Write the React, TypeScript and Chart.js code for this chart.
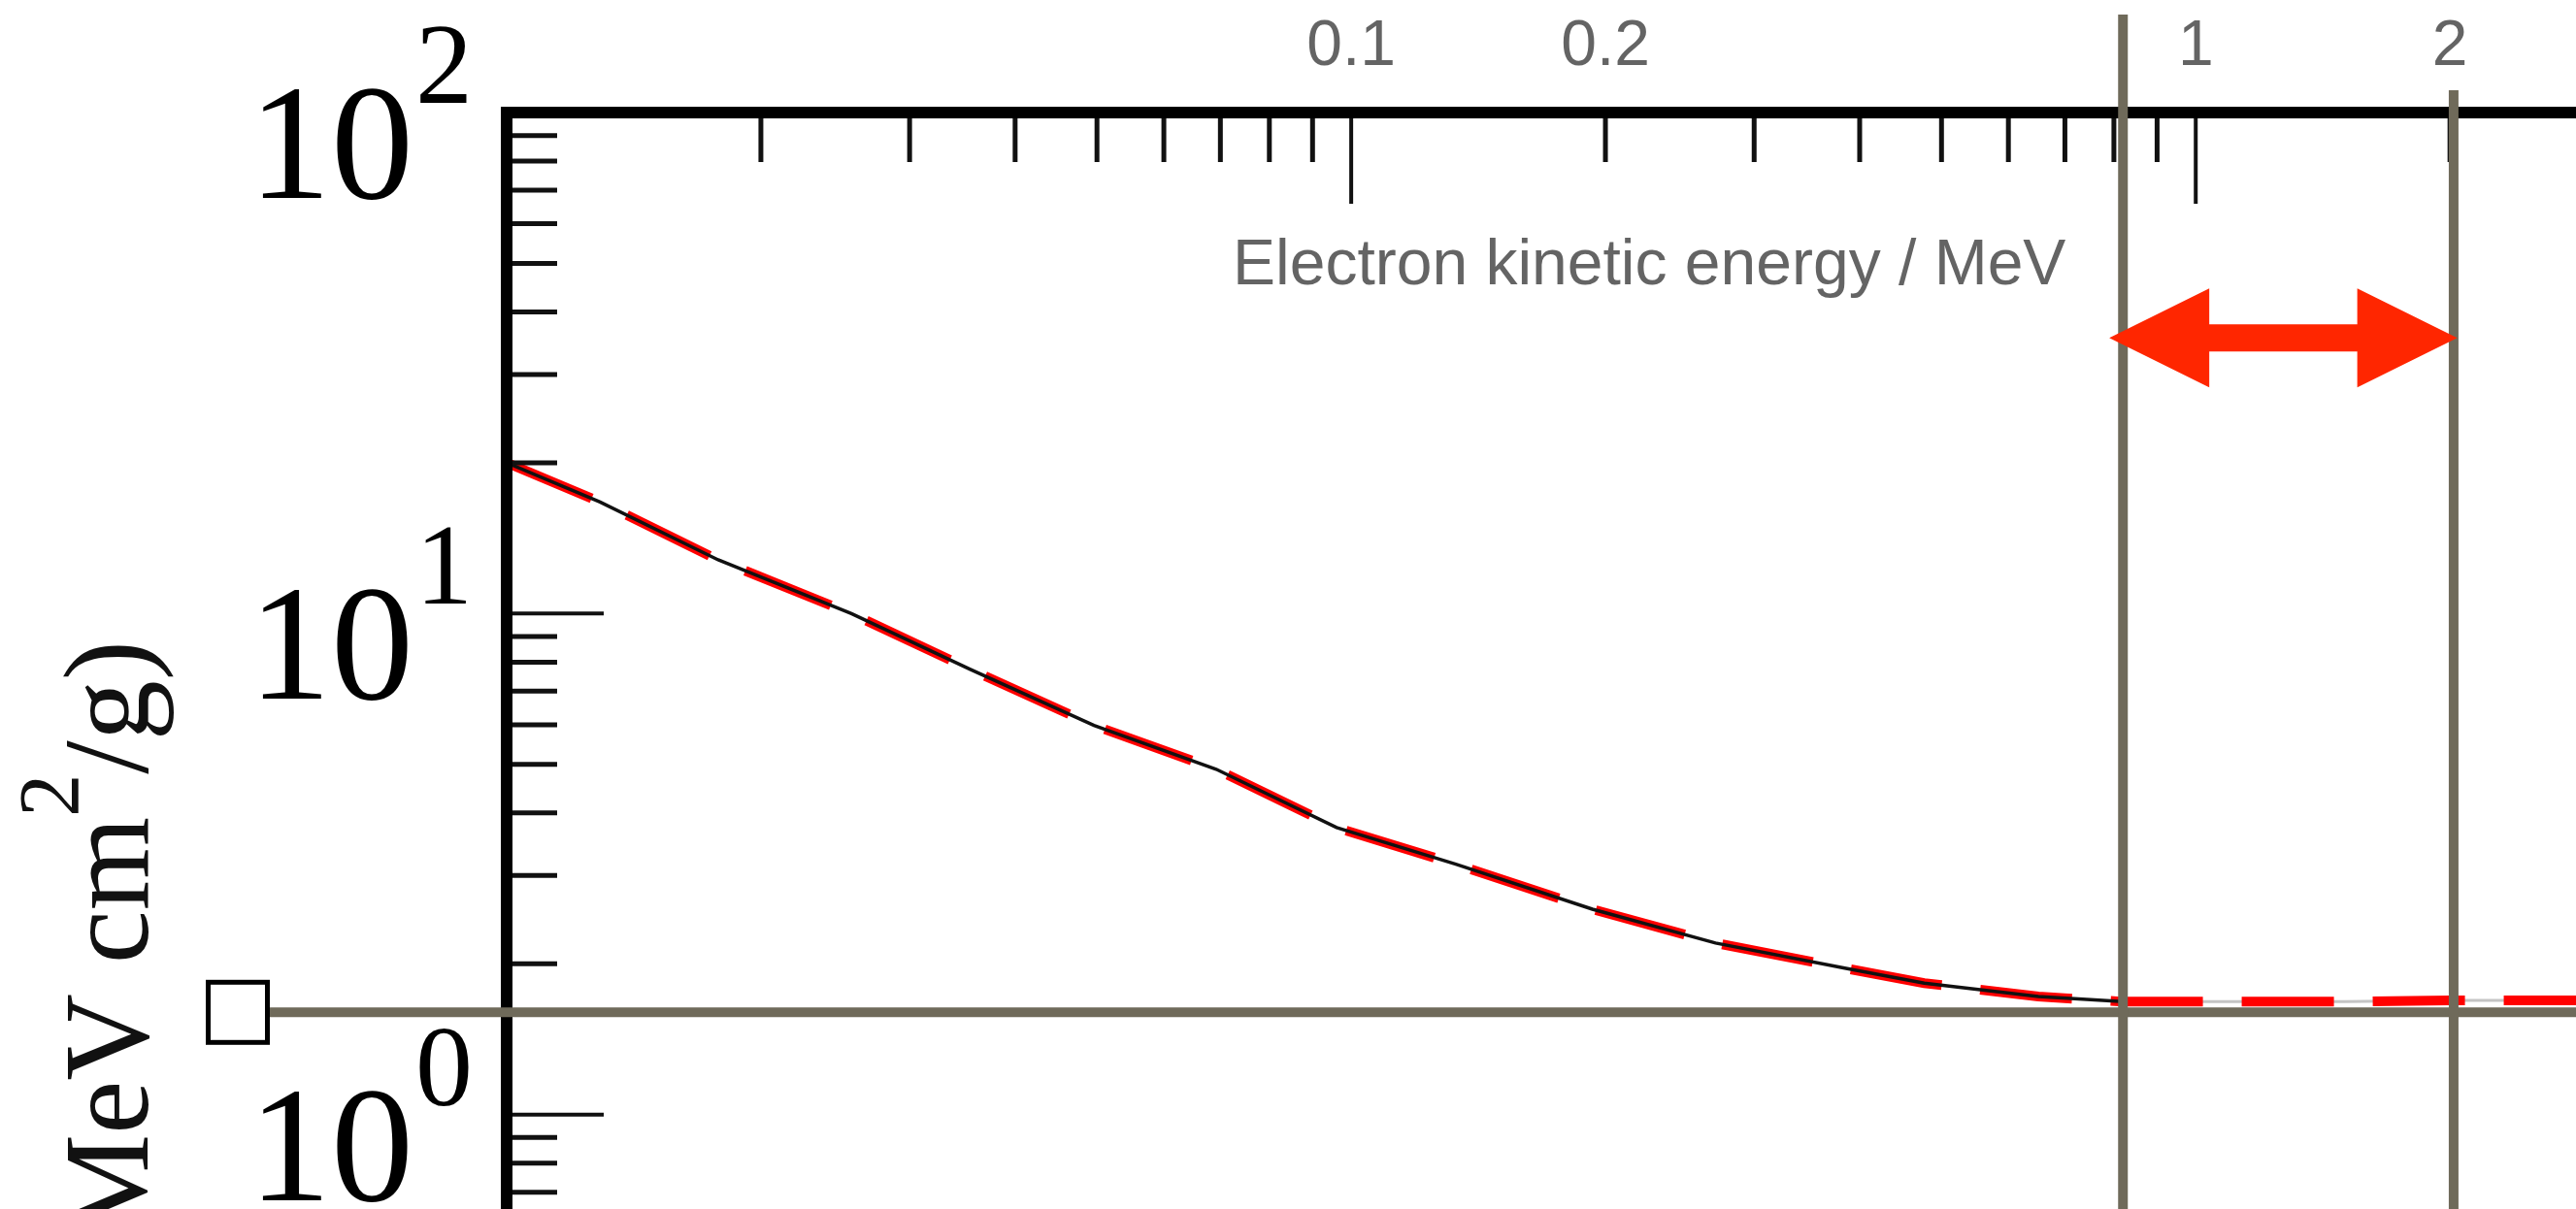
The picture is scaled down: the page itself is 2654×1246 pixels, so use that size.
import React, { useEffect, useRef } from "react";
import { Chart, registerables } from "chart.js";

Chart.register(...registerables);

// ---- data ----
const energyMeV = [0.01, 0.0129, 0.0178, 0.0256, 0.0354, 0.0496, 0.0692, 0.0961, 0.133, 0.193, 0.27, 0.384, 0.477, 0.651, 0.82, 1.01, 1.5, 2.0, 2.82];
const stoppingPower = [20.0, 16.7, 12.8, 10.0, 7.74, 5.98, 4.89, 3.74, 3.16, 2.57, 2.2, 1.96, 1.83, 1.72, 1.68, 1.68, 1.68, 1.69, 1.69];
const solidLineEndMeV = 0.82;

const xTickValues = [0.1, 0.2, 1, 2];
const xTickLabels = ["0.1", "0.2", "1", "2"];
const yDecadeExponents = [0, 1, 2];
const xAxisTitle = "Electron kinetic energy / MeV";
const yAxisTitleParts = ["(MeV cm", "2", "/g)"];

const minimumLevel = 1.6;
const rangeStartMeV = 0.82;
const rangeEndMeV = 2.02;
const arrowFromMeV = 0.79;
const arrowToMeV = 2.04;
const arrowLevel = 35.5;

const xMin = 0.01;
const xMax = 2.82;
const yMin = 0.648;
const yMax = 100;

const W = 2654;
const H = 1246;

const overlay = {
  id: "overlay",
  afterDatasetsDraw(chart: any) {
    const ctx = chart.ctx as CanvasRenderingContext2D;
    const xs = chart.scales.x;
    const ys = chart.scales.y;
    const L = chart.chartArea.left;
    const T = chart.chartArea.top;
    ctx.save();

    // y ticks (inward)
    ctx.strokeStyle = "#111";
    ctx.lineCap = "butt";
    for (let e = -1; e <= 2; e++) {
      for (let m = 1; m <= 9; m++) {
        const v = m * Math.pow(10, e);
        if (v < yMin || v > yMax) continue;
        const py = ys.getPixelForValue(v);
        const major = m === 1;
        ctx.lineWidth = major ? 4 : 5;
        ctx.beginPath();
        ctx.moveTo(L, py);
        ctx.lineTo(L + (major ? 100 : 52), py);
        ctx.stroke();
      }
    }
    // x ticks (inward, from top axis)
    for (let e = -2; e <= 0; e++) {
      for (let m = 1; m <= 9; m++) {
        const v = m * Math.pow(10, e);
        if (v <= xMin * 1.001 || v > xMax) continue;
        const px = xs.getPixelForValue(v);
        const major = m === 1;
        ctx.lineWidth = major ? 4 : 5;
        ctx.beginPath();
        ctx.moveTo(px, T);
        ctx.lineTo(px, T + (major ? 94 : 51));
        ctx.stroke();
      }
    }

    // axis lines
    ctx.strokeStyle = "#000";
    ctx.lineWidth = 12;
    ctx.beginPath();
    ctx.moveTo(L - 6, T);
    ctx.lineTo(W, T);
    ctx.stroke();
    ctx.beginPath();
    ctx.moveTo(L, T - 6);
    ctx.lineTo(L, H);
    ctx.stroke();

    // brown reference lines
    ctx.strokeStyle = "#6f6a5a";
    ctx.lineWidth = 10;
    const hy = ys.getPixelForValue(minimumLevel);
    ctx.beginPath();
    ctx.moveTo(278, hy);
    ctx.lineTo(W, hy);
    ctx.stroke();
    const v1 = xs.getPixelForValue(rangeStartMeV);
    const v2 = xs.getPixelForValue(rangeEndMeV);
    ctx.beginPath();
    ctx.moveTo(v1, 15);
    ctx.lineTo(v1, H);
    ctx.stroke();
    ctx.beginPath();
    ctx.moveTo(v2, 93);
    ctx.lineTo(v2, H);
    ctx.stroke();

    // square marker
    ctx.fillStyle = "#fff";
    ctx.fillRect(214.5, hy - 31, 61, 62);
    ctx.strokeStyle = "#000";
    ctx.lineWidth = 5;
    ctx.strokeRect(214.5, hy - 31, 61, 62);

    // double arrow
    const ax1 = xs.getPixelForValue(arrowFromMeV);
    const ax2 = xs.getPixelForValue(arrowToMeV);
    const ay = ys.getPixelForValue(arrowLevel);
    const headLen = 103;
    const headHalf = 51;
    const shaftHalf = 14;
    ctx.fillStyle = "#ff2600";
    ctx.beginPath();
    ctx.moveTo(ax1, ay);
    ctx.lineTo(ax1 + headLen, ay - headHalf);
    ctx.lineTo(ax1 + headLen, ay - shaftHalf);
    ctx.lineTo(ax2 - headLen, ay - shaftHalf);
    ctx.lineTo(ax2 - headLen, ay - headHalf);
    ctx.lineTo(ax2, ay);
    ctx.lineTo(ax2 - headLen, ay + headHalf);
    ctx.lineTo(ax2 - headLen, ay + shaftHalf);
    ctx.lineTo(ax1 + headLen, ay + shaftHalf);
    ctx.lineTo(ax1 + headLen, ay + headHalf);
    ctx.closePath();
    ctx.fill();

    // x tick labels
    ctx.fillStyle = "#646464";
    ctx.font = '66px "Liberation Sans", Arial, sans-serif';
    ctx.textAlign = "center";
    ctx.textBaseline = "alphabetic";
    xTickValues.forEach((v, i) => {
      ctx.fillText(xTickLabels[i], xs.getPixelForValue(v), 67);
    });
    // x title
    ctx.textAlign = "left";
    ctx.fillText(xAxisTitle, 1270, 293);

    // y decade labels
    ctx.fillStyle = "#000";
    yDecadeExponents.forEach((e) => {
      const py = ys.getPixelForValue(Math.pow(10, e));
      ctx.textAlign = "right";
      ctx.font = '170px "Liberation Serif", "Times New Roman", serif';
      ctx.fillText("10", 426, py + 88);
      ctx.font = '118px "Liberation Serif", "Times New Roman", serif';
      ctx.fillText(String(e), 487, py - 10);
    });

    // y title (rotated, partly cut off at the bottom)
    ctx.save();
    ctx.translate(152, 660);
    ctx.rotate(-Math.PI / 2);
    ctx.textAlign = "left";
    ctx.fillStyle = "#111";
    const bigFont = '124px "Liberation Serif", "Times New Roman", serif';
    const supFont = '88px "Liberation Serif", "Times New Roman", serif';
    ctx.font = bigFont;
    const w1 = ctx.measureText(yAxisTitleParts[0]).width;
    const w3 = ctx.measureText(yAxisTitleParts[2]).width;
    ctx.font = supFont;
    const w2 = ctx.measureText(yAxisTitleParts[1]).width;
    const x0 = -(w1 + w2 + w3);
    ctx.font = bigFont;
    ctx.fillText(yAxisTitleParts[0], x0, 0);
    ctx.font = supFont;
    ctx.fillText(yAxisTitleParts[1], x0 + w1, -72);
    ctx.font = bigFont;
    ctx.fillText(yAxisTitleParts[2], x0 + w1 + w2, 0);
    ctx.restore();

    ctx.restore();
  },
};

export default function App() {
  const ref = useRef<HTMLCanvasElement | null>(null);
  useEffect(() => {
    if (!ref.current) return;
    const allPoints = energyMeV.map((x, i) => ({ x, y: stoppingPower[i] }));
    const solidPoints = allPoints.filter((p) => p.x <= solidLineEndMeV + 1e-9);
    const tailPoints = allPoints.filter((p) => p.x >= solidLineEndMeV - 1e-9);
    const chart = new Chart(ref.current, {
      type: "line",
      data: {
        datasets: [
          {
            label: "solid",
            data: solidPoints,
            borderColor: "#111",
            borderWidth: 3.5,
            pointRadius: 0,
            fill: false,
          },
          {
            label: "dashed",
            data: allPoints,
            borderColor: "#ff0000",
            borderWidth: 10,
            borderDash: [95, 40],
            pointRadius: 0,
            fill: false,
          },
          {
            label: "tail",
            data: tailPoints,
            borderColor: "#c4c4c4",
            borderWidth: 3,
            pointRadius: 0,
            fill: false,
          },
        ],
      },
      options: {
        animation: false,
        responsive: false,
        devicePixelRatio: 1,
        events: [],
        layout: { padding: { left: 522, top: 116, right: 0, bottom: 0 } },
        plugins: { legend: { display: false }, tooltip: { enabled: false } },
        scales: {
          x: { type: "logarithmic", bounds: "data", min: xMin, max: xMax, display: false },
          y: { type: "logarithmic", bounds: "data", min: yMin, max: yMax, display: false },
        },
      },
      plugins: [overlay],
    } as any);
    return () => chart.destroy();
  }, []);
  return (
    <div style={{ position: "fixed", left: 0, top: 0, width: W, height: H, background: "#fff" }}>
      <canvas ref={ref} width={W} height={H} style={{ width: W, height: H, display: "block" }} />
    </div>
  );
}
